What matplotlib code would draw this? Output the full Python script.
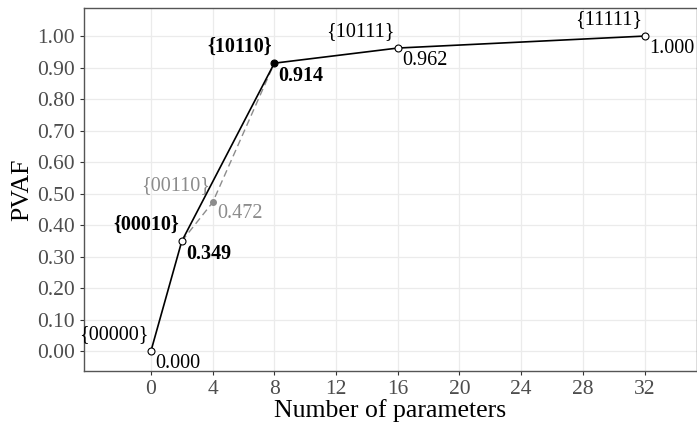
import matplotlib
matplotlib.use("Agg")
import matplotlib.pyplot as plt

# main path (solid black)
main_x = [0, 2, 8, 16, 32]
main_y = [0.000, 0.349, 0.914, 0.962, 1.000]
main_names = ["{00000}", "{00010}", "{10110}", "{10111}", "{11111}"]
main_bold = [False, True, True, False, False]

# alternative path (dashed gray)
alt_x = [2, 4, 8]
alt_y = [0.349, 0.472, 0.914]
alt_name = "{00110}"

x_ticks = [0, 4, 8, 12, 16, 20, 24, 28, 32]
y_ticks = [0.0, 0.1, 0.2, 0.3, 0.4, 0.5, 0.6, 0.7, 0.8, 0.9, 1.0]

plt.rcParams['font.family'] = ['Liberation Serif', 'DejaVu Serif']

fig = plt.figure(figsize=(6.97, 4.23), dpi=100)
ax = fig.add_axes([0.1205, 0.123, 0.8795, 0.858])

gray = "#8c8c8c"
ax.plot(alt_x, alt_y, color=gray, lw=1.0, ls=(0, (5, 3)), zorder=2)
ax.plot(alt_x[1], alt_y[1], 'o', color=gray, ms=4, mec=gray, zorder=3)
ax.plot(main_x, main_y, color="black", lw=1.2, zorder=4)
for x, y in zip(main_x, main_y):
    filled = (x == 8)
    ax.plot(x, y, 'o', ms=5, mfc="black" if filled else "white",
            mec="black", mew=0.8, zorder=5)

for x, y, nm, b in zip(main_x, main_y, main_names, main_bold):
    w = "bold" if b else "normal"
    ax.annotate(nm, (x, y), xytext=(-2, 12), textcoords="offset points",
                ha="right", va="center", fontsize=14.5, color="black", fontweight=w)
    ax.annotate("%.3f" % y, (x, y), xytext=(3, -9), textcoords="offset points",
                ha="left", va="center", fontsize=14.5, color="black", fontweight=w)

ax.annotate(alt_name, (alt_x[1], alt_y[1]), xytext=(-2, 12), textcoords="offset points",
            ha="right", va="center", fontsize=14.5, color=gray)
ax.annotate("%.3f" % alt_y[1], (alt_x[1], alt_y[1]), xytext=(3, -8),
            textcoords="offset points", ha="left", va="center", fontsize=14.5, color=gray)

ax.set_xlim(-4.34, 35.4)
ax.set_ylim(-0.063, 1.089)
ax.set_xticks(x_ticks)
ax.set_yticks(y_ticks)
ax.set_yticklabels(["%.2f" % v for v in y_ticks])
ax.tick_params(labelsize=15.5, labelcolor="#4d4d4d", color="#333333", length=3, width=0.8)
ax.grid(True, color="#ebebeb", lw=0.9)
ax.set_axisbelow(True)
for s in ax.spines.values():
    s.set_color("#555555")
    s.set_linewidth(1.0)

ax.set_xlabel("Number of parameters", fontsize=18.5, labelpad=0)
ax.set_ylabel("PVAF", fontsize=18.5, labelpad=3)

fig.savefig("out.png", dpi=100)
